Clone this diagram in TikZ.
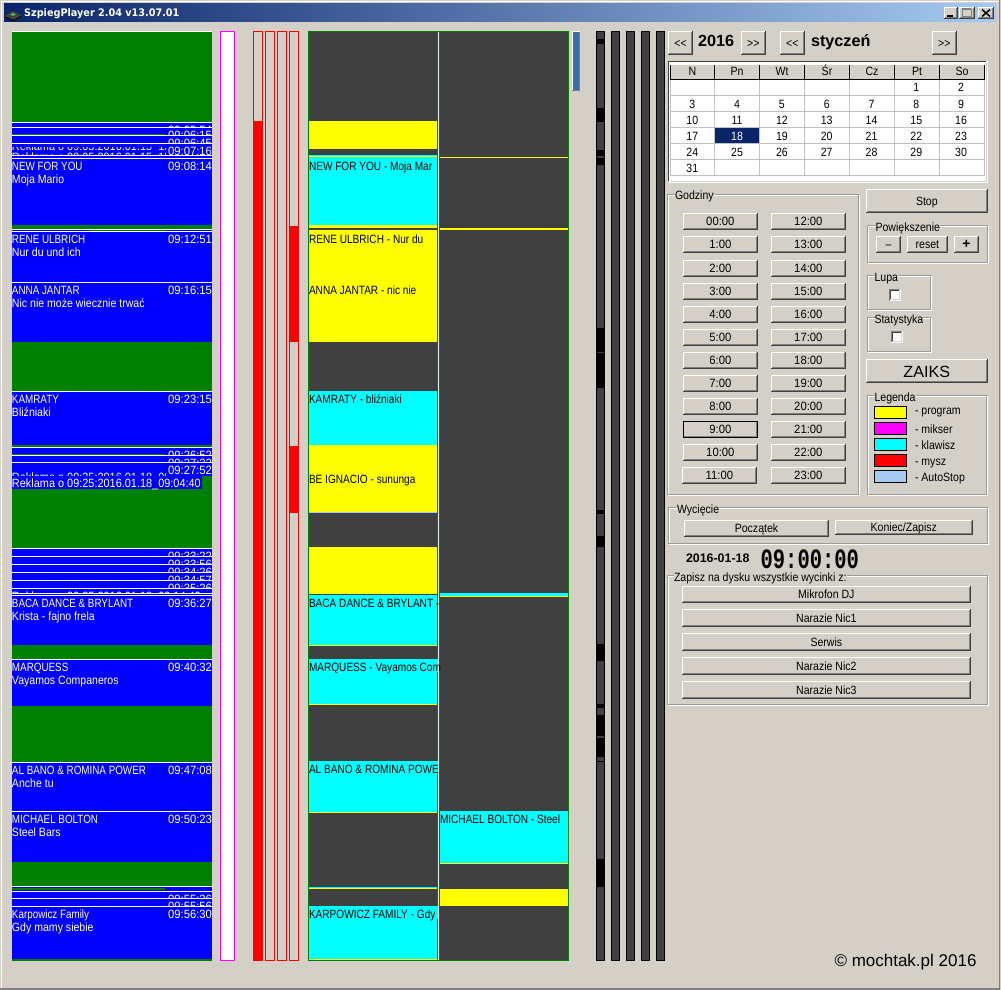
\documentclass[tikz,border=0pt]{standalone}
\usepackage{fontspec}
\setmainfont{Liberation Sans}
\newfontfamily\uifam[FakeStretch=0.88]{Liberation Sans}
\newfontfamily\tmfam[FakeStretch=0.94]{Liberation Sans}
\newfontfamily\rkfam[FakeStretch=0.91]{Liberation Sans}
\newfontfamily\capfam[FakeStretch=0.82]{Liberation Sans}
\newfontfamily\trfam[FakeStretch=0.84]{Liberation Sans}
\newfontfamily\clockfam[FakeStretch=0.73]{Liberation Mono}
\newfontfamily\titfam[FakeStretch=0.93]{DejaVu Sans}
\newcommand\uif{\uifam\fontsize{12}{13}\selectfont}
\newcommand\tmf{\tmfam\fontsize{12}{13}\selectfont}
\newcommand\rkf{\rkfam\fontsize{12}{13}\selectfont}
\newcommand\capf{\capfam\fontsize{12}{13}\selectfont}
\newcommand\trf{\trfam\fontsize{12}{13}\selectfont}
\definecolor{face}{HTML}{D4D0C8}
\definecolor{pblue}{HTML}{0000FF}
\definecolor{pgreen}{HTML}{008000}
\definecolor{dgray}{HTML}{404040}
\definecolor{mgray}{HTML}{808080}
\definecolor{navy}{HTML}{0A246A}
\definecolor{capl}{HTML}{A6CAF0}
\definecolor{steel}{HTML}{3A6EA5}
\definecolor{gridc}{HTML}{C0C0C0}
\definecolor{pyellow}{HTML}{FFFF00}
\definecolor{pcyan}{HTML}{00FFFF}
\definecolor{pmagenta}{HTML}{FF00FF}
\definecolor{pred}{HTML}{FF0000}
\definecolor{sepc}{HTML}{D8ECD8}
\newcount\nn
\tikzset{ui/.style={font=\uif,inner sep=0pt,outer sep=0pt,text=black},
 tm/.style={font=\tmf,inner sep=0pt,outer sep=0pt,text=white,anchor=base east},
 swatch/.style={draw=black,line width=1pt}}
% label at x, baseline
\newcommand\ulab[4][]{\global\advance\nn by 1\relax\node[ui,anchor=base west,#1] (n\the\nn) at (#2,#3) {#4};}
\newcommand\tlab[3]{\ulab[font=\trf]{#1}{#2}{#3}}
% playlist item: top,bottom,line1,line2,time
\newcommand\plitem[5]{%
 \fill[pblue] (12,#1) rectangle (212,#2);
 \fill[white] (12,#1) rectangle (212,#1+1);
 \begin{scope}
 \clip (12,#1+1) rectangle (212,#2);
 \ulab[text=white,font=\capf]{12}{#1+12}{#3}
 \ulab[text=white]{12}{#1+25}{#4}
 \global\advance\nn by 1\relax\node[tm] (n\the\nn) at (212,#1+12) {#5};
 \end{scope}}
% clipped text x1,y1,x2,y2,baseline,text
\newcommand\clipt[6]{\begin{scope}\clip (#1,#2) rectangle (#3,#4);\ulab[text=white,font=\rkf]{#1}{#5}{#6}\end{scope}}
% raised button
\newcommand\btn[6][]{%
 \fill[face] (#2,#3) rectangle (#4,#5);
 \draw[white,line width=1pt] (#2+.5,#5-1) -- (#2+.5,#3+.5) -- (#4-1,#3+.5);
 \draw[dgray,line width=1pt] (#2,#5-.5) -- (#4-.5,#5-.5) -- (#4-.5,#3);
 \draw[mgray,line width=1pt] (#2+1,#5-1.5) -- (#4-1.5,#5-1.5) -- (#4-1.5,#3+1);
 \global\advance\nn by 1\relax
 \node[ui,anchor=base,#1] (n\the\nn) at ({(#2+#4)/2},{(#3+#5)/2+4}) {#6};}
% hour button
\newcommand\hbtn[4]{\btn[font=\tmf]{#1}{#2}{#3}{#2+17}{#4}}
% etched frame
\newcommand\frm[7]{%
 \draw[white,line width=1pt] (#1+1,#2+1) rectangle (#3+1,#4+1);
 \draw[mgray!80,line width=1pt] (#1,#2) rectangle (#3,#4);
 \ulab[fill=face]{#5}{#6}{#7}}
% black block in first meter
\newcommand\blk[2]{\fill[black] (596,#1) rectangle (605,#2);}
% track block
\newcommand\blkc[5]{\fill[#1] (#2,#3) rectangle (#4,#5);}
% checkbox
\newcommand\chk[2]{%
 \fill[white] (#1,#2) rectangle (#1+12,#2+12);
 \draw[mgray,line width=1pt] (#1+.5,#2+11.5) -- (#1+.5,#2+.5) -- (#1+11.5,#2+.5);
 \draw[dgray,line width=1pt] (#1+1.5,#2+10.5) -- (#1+1.5,#2+1.5) -- (#1+10.5,#2+1.5);
 \draw[face,line width=1pt] (#1+1.5,#2+10.5) -- (#1+10.5,#2+10.5) -- (#1+10.5,#2+1.5);}
\begin{document}
\begin{tikzpicture}[x=1pt,y=-1pt]
\useasboundingbox (0,0) rectangle (1001,990);
\fill[face] (0,0) rectangle (1001,990);
% window edges
\draw[white,line width=1pt] (1.5,988) -- (1.5,1.5) -- (999,1.5);
\fill[mgray] (999,0) rectangle (1000,989);
\fill[mgray] (0,988) rectangle (1000,990);
% title bar
\shade[left color=navy,right color=capl] (4,4) rectangle (996,22);
\fill[dgray] (6,15) -- (13,11) -- (21,15) -- (21,17) -- (14,21) -- (6,18) -- cycle;
\fill[black] (6,17) -- (14,20) -- (21,16) -- (21,17) -- (14,21) -- (6,18) -- cycle;
\fill[green!45!gray] (10,14.5) -- (13,13) -- (16,14.5) -- (13,16) -- cycle;
\node[inner sep=0pt,anchor=base west,text=white,font=\titfam\bfseries\fontsize{10.4}{12}\selectfont] (title) at (24,17) {SzpiegPlayer 2.04 v13.07.01};
\btn{944}{6.7}{957.5}{19.3}{}
\fill[black] (947,15) rectangle (953,17);
\btn{959}{6.7}{975}{19.3}{}
\draw[mgray,line width=1pt] (962,9.5) rectangle (971,16.5);
\draw[mgray,line width=2pt] (962,9.5) -- (971,9.5);
\btn{978}{6.7}{994}{19.3}{}
\draw[black,line width=1.5pt] (982,9.5) -- (990,16.5) (990,9.5) -- (982,16.5);
% playlist column
\fill[pgreen] (12,31) rectangle (212,961);
\fill[white] (12,31) rectangle (212,32);
\plitem{122}{127}{}{}{09:05:54}
\plitem{127}{135}{}{}{09:06:15}
\fill[pgreen] (12,134) rectangle (165,135);
\plitem{135}{143}{}{}{09:06:45}
\plitem{143}{155}{}{}{09:07:16}
\clipt{12}{147}{165}{150}{150}{Reklama o 09:05:2016.01.15\_15:15}
\clipt{12}{152}{165}{155}{161}{Reklama o 09:05:2016.01.15\_15:15}
\plitem{155}{158}{}{}{}
\plitem{158}{225}{NEW FOR YOU}{Moja Mario}{09:08:14}
\plitem{229}{231}{}{}{}
\fill[pgreen] (90,230) rectangle (165,231);
\plitem{231}{282}{RENE ULBRICH}{Nur du und ich}{09:12:51}
\plitem{282}{342}{ANNA JANTAR}{Nic nie może wiecznie trwać}{09:16:15}
\plitem{391}{445}{KAMRATY}{Bliźniaki}{09:23:15}
\plitem{447}{455}{}{}{09:26:52}
\fill[pgreen] (12,454) rectangle (165,455);
\plitem{455}{462}{}{}{09:27:22}
\plitem{462}{476}{}{}{09:27:52}
\clipt{12}{472}{165}{476}{481}{Reklama o 09:25:2016.01.18\_09:04:40}
\fill[pblue] (12,476) rectangle (202,489);
\ulab[text=white,font=\rkf]{12}{487}{Reklama o 09:25:2016.01.18\_09:04:40}
\plitem{548}{556}{}{}{09:33:22}
\plitem{556}{564}{}{}{09:33:56}
\plitem{564}{572}{}{}{09:34:26}
\plitem{572}{580}{}{}{09:34:57}
\plitem{580}{588}{}{}{09:35:26}
\plitem{588}{593}{}{}{}
\clipt{12}{591}{212}{593}{600}{Reklama o 09:35:2016.01.18\_09:14:40}
\plitem{593}{595}{}{}{}
\plitem{595}{645}{BACA DANCE \& BRYLANT}{Krista - fajno frela}{09:36:27}
\plitem{659}{706}{MARQUESS}{Vayamos Companeros}{09:40:32}
\plitem{762}{811}{AL BANO \& ROMINA POWER}{Anche tu}{09:47:08}
\plitem{811}{862}{MICHAEL BOLTON}{Steel Bars}{09:50:23}
\plitem{886}{891}{}{}{}
\fill[pgreen] (12,888) rectangle (165,890);
\plitem{891}{898}{}{}{09:55:26}
\plitem{898}{906}{}{}{09:55:56}
\plitem{906}{959}{Karpowicz Family}{Gdy mamy siebie}{09:56:30}
% magenta column
\draw[pmagenta,fill=white,line width=1pt] (220.5,31.5) rectangle (234.5,960.5);
% red columns
\draw[pred,line width=1pt] (253.5,31.5) rectangle (262.5,960.5);
\draw[pred,line width=1pt] (265.5,31.5) rectangle (274.5,960.5);
\draw[pred,line width=1pt] (277.5,31.5) rectangle (286.5,960.5);
\draw[pred,line width=1pt] (289.5,31.5) rectangle (298.5,960.5);
\fill[pred] (253,121) rectangle (263,961);
\fill[pred] (289,226) rectangle (299,342);
\fill[pred] (289,446) rectangle (299,513);
% track columns
\fill[dgray] (308,31) rectangle (569,961);
\draw[pgreen,line width=1pt] (308.5,31.5) rectangle (568.5,960.5);
\fill[pgreen] (437,31) rectangle (439.5,961);
\fill[sepc] (438,32) rectangle (439,960);
\blkc{pyellow}{309}{121}{437}{149}
\blkc{pcyan}{309}{155}{437}{156}
\blkc{pyellow}{309}{156}{437}{157.3}
\blkc{pcyan}{309}{157.3}{437}{225}
\blkc{pyellow}{309}{225}{437}{228.3}
\blkc{pyellow}{309}{230}{437}{342}
\blkc{pcyan}{309}{391}{437}{445}
\blkc{pyellow}{309}{445}{437}{512.3}
\blkc{capl}{309}{512.3}{437}{513}
\blkc{pyellow}{309}{547}{437}{594}
\blkc{pcyan}{309}{595}{437}{645}
\blkc{pyellow}{309}{645}{437}{646}
\blkc{pcyan}{309}{659}{437}{704}
\blkc{pcyan}{437}{659}{438}{672}
\blkc{pyellow}{309}{704}{437}{705}
\blkc{pcyan}{309}{761}{437}{812}
\blkc{pcyan}{437}{761}{438}{774}
\blkc{pyellow}{309}{812}{437}{813}
\blkc{pcyan}{309}{887}{437}{888}
\blkc{pyellow}{309}{888}{437}{889}
\blkc{pcyan}{309}{906}{437}{959}
\blkc{pcyan}{437}{906}{438}{919}
\blkc{pyellow}{309}{959}{437}{960}
\blkc{pyellow}{440}{157}{568}{158}
\blkc{pyellow}{440}{228}{568}{230}
\blkc{pcyan}{440}{593}{568}{595.5}
\blkc{pyellow}{440}{595.5}{568}{596}
\blkc{pcyan}{440}{811}{568}{863}
\blkc{pyellow}{440}{863}{568}{864}
\blkc{pyellow}{440}{889}{568}{906}
\tlab{309}{170}{NEW FOR YOU - Moja Mar}
\tlab{309}{243}{RENE ULBRICH - Nur du}
\tlab{309}{294}{ANNA JANTAR - nic nie}
\tlab{309}{403}{KAMRATY - bliźniaki}
\tlab{309}{483}{BE IGNACIO - sununga}
\tlab{309}{607}{BACA DANCE \& BRYLANT -}
\tlab{309}{671}{MARQUESS - Vayamos Com}
\tlab{309}{773}{AL BANO \& ROMINA POWE}
\tlab{309}{918}{KARPOWICZ FAMILY - Gdy}
\tlab{440}{823}{MICHAEL BOLTON - Steel}
% scroll thumb
\fill[steel] (572,31) rectangle (580,91);
\draw[white,line width=1pt] (572.5,91) -- (572.5,31.5) -- (580,31.5);
\draw[mgray,line width=1pt] (572,90.5) -- (579.5,90.5) -- (579.5,32);
% meters
\foreach \mx in {596,611,626,641,656}{
 \draw[black,fill=dgray,line width=1pt] (\mx+.5,31.5) rectangle (\mx+8.5,960.5);}
\blk{39}{44}\blk{108}{122}\blk{150}{156}\blk{158}{165}\blk{328}{352}\blk{353}{388}
\blk{510}{514}\blk{536}{547}\blk{644}{661}\blk{704}{708}\blk{715}{736}\blk{738}{757}
\blk{761}{762}\blk{859}{887}
% year and month
\tikzset{big/.style={font=\bfseries\fontsize{16.2}{18}\selectfont}}
\btn{668.3}{31}{692.7}{55.3}{<<}
\ulab[big]{698}{47}{2016}
\btn{741}{31}{765.7}{55.3}{>>}
\btn{780}{31}{804.7}{55.3}{<<}
\ulab[big]{811}{47}{styczeń}
\btn{932}{31}{956.7}{55.3}{>>}
% calendar
\draw[white,line width=1pt] (669,62) rectangle (987,182);
\fill[white] (669,62) rectangle (986,181);
\fill[face] (670,64) rectangle (985,79);
\draw[dgray,line width=1pt] (668.5,181) -- (668.5,61.5) -- (986,61.5);
\fill[navy] (715,128) rectangle (759,143.3);
\foreach \yy in {95.7,111.7,127.7,143.7,159.7,175.7}{\draw[gridc,line width=1pt] (670,\yy) -- (985,\yy);}
\foreach \xx in {670,714.7,759.3,804.7,849.3,894.7,939.3,984.7}{
 \draw[gridc,line width=1pt] (\xx,80) -- (\xx,176);
 \draw[black,line width=1pt] (\xx,64) -- (\xx,79);}
\draw[white,line width=1pt] (670,64.5) -- (985,64.5);
\fill[black] (670,78.5) rectangle (985,80);
\foreach \xa/\xb/\hh [count=\ci] in {670/714.7/N,714.7/759.3/Pn,759.3/804.7/Wt,804.7/849.3/Śr,849.3/894.7/Cz,894.7/939.3/Pt,939.3/984.7/So}{
 \node[ui,anchor=base] (hd\ci) at ({(\xa+\xb)/2},76) {\hh};}
\foreach \col/\row/\dd [count=\ci] in {5/0/1,6/0/2,
 0/1/3,1/1/4,2/1/5,3/1/6,4/1/7,5/1/8,6/1/9,
 0/2/10,1/2/11,2/2/12,3/2/13,4/2/14,5/2/15,6/2/16,
 0/3/17,2/3/19,3/3/20,4/3/21,5/3/22,6/3/23,
 0/4/24,1/4/25,2/4/26,3/4/27,4/4/28,5/4/29,6/4/30,
 0/5/31}{
 \node[ui,anchor=base] (d\ci) at ({692.3+44.8*\col},{92+16*\row}) {\dd};}
\node[ui,anchor=base,text=white] (dsel) at (737,140) {18};
% hours
\frm{667.5}{194.5}{858.5}{494.5}{675}{199}{Godziny}
\foreach \h/\yy [count=\ci] in {00/213,1/236,2/259.5,3/283,4/306,5/329,6/352,7/375,8/398,9/421,10/444}{
 \hbtn{683}{\yy}{757.7}{\h:00}
}
\hbtn{682}{467}{756.7}{11:00}
\foreach \h/\yy in {12/213,13/236,14/259.5,15/283,16/306,17/329,18/352,19/375,20/398,21/421,22/444,23/467}{
 \hbtn{771}{\yy}{845.7}{\h:00}
}
\draw[black,line width=1pt] (683.5,421.5) rectangle (757.2,437.5);
% stop and zoom
\btn{866}{189.3}{987.7}{213.3}{Stop}
\frm{867.5}{225.5}{987}{262.5}{875.5}{231}{Powiększenie}
\btn{876}{236}{901}{252.7}{–}
\btn{907}{236}{947.7}{252.7}{reset}
\btn[font=\bfseries\fontsize{14}{14}\selectfont]{954}{236}{979}{252.7}{+}
\frm{867}{275.5}{930}{309.5}{874.5}{281}{Lupa}
\chk{888.5}{289.3}
\frm{867}{317.5}{930}{351.5}{874.5}{323}{Statystyka}
\chk{890.5}{330.5}
\btn[font=\fontsize{16.2}{18}\selectfont,yshift=-2pt]{866}{359.3}{987.7}{383.3}{ZAIKS}
% legend
\frm{867}{395.7}{986.7}{494.7}{874.5}{401}{Legenda}
\foreach \yy/\bb/\cc/\ll in {406.5/414/pyellow/- program,422.5/433/pmagenta/- mikser,438.5/449/pcyan/- klawisz,454.5/465/pred/- mysz,470.5/481/capl/- AutoStop}{
 \draw[swatch,fill=\cc] (874.5,\yy) rectangle (906.5,\yy+12);
 \ulab{915}{\bb}{\ll}
}
% cut
\frm{668.5}{507.5}{987}{543.5}{677}{513}{Wycięcie}
\btn{684}{520}{829}{536.7}{Początek}
\btn{835}{520}{972.7}{534.7}{Koniec/Zapisz}
\ulab[font=\bfseries\fontsize{12.4}{14}\selectfont]{686}{562}{2016-01-18}
\node[inner sep=0pt,anchor=base west,font=\clockfam\bfseries\fontsize{28}{28}\selectfont] (clock) at (760.5,568) {09:00:00};
% save
\frm{667}{575.7}{987}{704.3}{674}{581}{Zapisz na dysku wszystkie wycinki z:}
\btn{682}{586}{970.7}{602.7}{Mikrofon DJ}
\btn{682}{609.3}{970.7}{626.7}{Narazie Nic1}
\btn{682}{633.3}{970.7}{650.7}{Serwis}
\btn{682}{657.3}{970.7}{674.7}{Narazie Nic2}
\btn{682}{681.3}{970.7}{698.7}{Narazie Nic3}
\node[inner sep=0pt,anchor=base east,font=\fontsize{17}{18}\selectfont] (copy) at (976.7,966) {© mochtak.pl 2016};
\end{tikzpicture}
\end{document}
